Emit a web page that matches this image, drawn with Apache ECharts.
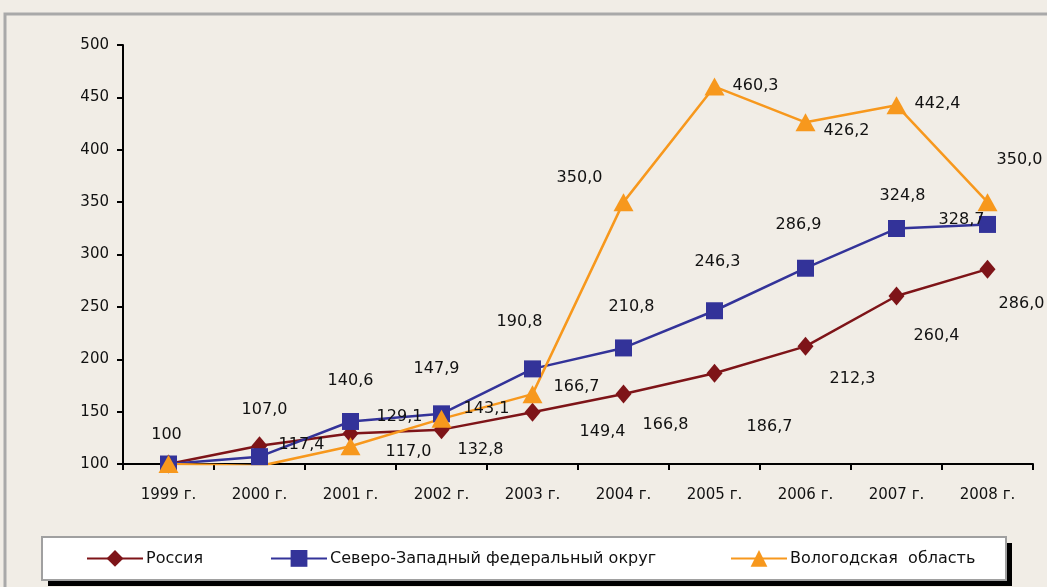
<!DOCTYPE html>
<html><head><meta charset="utf-8">
<script src="https://cdn.jsdelivr.net/npm/echarts@6/dist/echarts.min.js"></script>
<style>html,body{margin:0;padding:0;background:#F1EDE6}#c{width:1047px;height:587px}</style>
</head><body><div id="c"></div>
<script>
const categories = ['1999 г.','2000 г.','2001 г.','2002 г.','2003 г.','2004 г.','2005 г.','2006 г.','2007 г.','2008 г.'];
const russia = [100, 117.4, 129.1, 132.8, 149.4, 166.8, 186.7, 212.3, 260.4, 286.0];
const nwfd = [100, 107.0, 140.6, 147.9, 190.8, 210.8, 246.3, 286.9, 324.8, 328.7];
const vologda = [100, 98, 117.0, 143.1, 166.7, 350.0, 460.3, 426.2, 442.4, 350.0];
const seriesNames = ['Россия','Северо-Западный федеральный округ','Вологодская  область'];
const yTicks = {min:100, max:500, interval:50};

// label offsets (px) relative to the marker centre; null = no label
const russiaLbl = [[-2,-29],[42,-1],[49,-17],[39,20],[70,20],[42,31],[55,54],[47,32],[40,40],[34,35]];
const nwfdLbl = [null,[5,-47],[0,-41],[-5,-45],[-13,-47],[8,-41],[3,-49],[-7,-43],[6,-33],[-26,-5]];
const vologdaLbl = [null,null,[58,6],[45,-10],[44,-7],[-44,-24],[41,-1],[41,9],[41,-1],[32,-42]];

const fmt = v => (v===100 ? '100' : v.toFixed(1).replace('.', ','));
function build(vals, offs){
  return vals.map((v,i)=>({value:v, label: offs[i] ? {show:true, position:'inside', offset:offs[i], formatter: fmt(v)} : {show:false}}));
}
const FONT = 'DejaVu Sans';
const lblStyle = {color:'#111', fontSize:16, fontFamily:FONT};
const chart = echarts.init(document.getElementById('c'));
const colors = ['#7E1418','#333399','#F7981D'];
function mkSeries(name, vals, offs, color, symbol, size){
  return {name, type:'line', data: build(vals, offs), symbol, symbolSize:size,
    lineStyle:{color, width:2.5}, itemStyle:{color}, label:lblStyle, emphasis:{disabled:true}, animation:false};
}
const legendBase = {top:545, itemWidth:56, itemHeight:21, itemGap:0, textStyle:{fontFamily:FONT, fontSize:16, color:'#111', padding:[0,0,0,-2]}, selectedMode:false};
chart.setOption({
  backgroundColor:'#F1EDE6',
  animation:false,
  graphic:[
    {type:'rect', shape:{x:5, y:14, width:1100, height:700}, style:{fill:'none', stroke:'#A9A9A9', lineWidth:3}, z:-10},
    {type:'rect', shape:{x:48, y:543, width:964, height:43}, style:{fill:'#000'}, z:-5},
    {type:'rect', shape:{x:42, y:537, width:964, height:43}, style:{fill:'#fff', stroke:'#A0A0A0', lineWidth:2}, z:-4}
  ],
  grid:{left:123, right:14, top:45, bottom:123},
  xAxis:{type:'category', data:categories, boundaryGap:true,
    axisLine:{lineStyle:{color:'#000', width:2}},
    axisTick:{show:true, length:6, lineStyle:{color:'#000', width:2}},
    axisLabel:{color:'#111', fontSize:15, fontFamily:FONT, margin:24}},
  yAxis:{type:'value', min:yTicks.min, max:yTicks.max, interval:yTicks.interval,
    splitLine:{show:false},
    axisLine:{show:true, lineStyle:{color:'#000', width:2}},
    axisTick:{show:true, length:6, lineStyle:{color:'#000', width:2}},
    axisLabel:{color:'#111', fontSize:15, fontFamily:FONT, margin:14}},
  legend:[
    Object.assign({left:81, data:[seriesNames[0]]}, legendBase),
    Object.assign({left:265, data:[seriesNames[1]]}, legendBase),
    Object.assign({left:725, data:[seriesNames[2]]}, legendBase)
  ],
  series:[
    mkSeries(seriesNames[0], russia, russiaLbl, colors[0], 'diamond', [16,19]),
    mkSeries(seriesNames[1], nwfd, nwfdLbl, colors[1], 'rect', 17),
    mkSeries(seriesNames[2], vologda, vologdaLbl, colors[2], 'triangle', [20,18])
  ]
});
</script></body></html>
